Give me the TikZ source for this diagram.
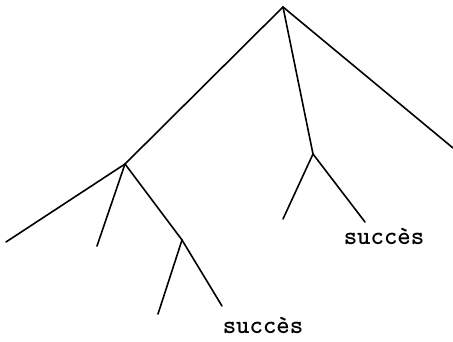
\documentclass[tikz,border=0pt]{standalone}
\begin{document}
\begin{tikzpicture}[x=1pt,y=-1pt,
  edge/.style={line width=1.6pt,line cap=round},
  lbl/.style={font=\fontsize{25.5}{30}\selectfont\ttfamily\bfseries,anchor=base,inner sep=0pt}]
\useasboundingbox (0,0) rectangle (453,342);
\coordinate (r) at (283,7);
\coordinate (a) at (125,164);
\coordinate (m) at (313,154);
\coordinate (rl) at (453,148);
\coordinate (a1) at (6,242);
\coordinate (a2) at (97,246);
\coordinate (b) at (182,240);
\coordinate (b1) at (158,314);
\coordinate (b2) at (222,306);
\coordinate (m1) at (283,219);
\coordinate (m2) at (365,222);
\draw[edge] (r) -- (a);
\draw[edge] (r) -- (m);
\draw[edge] (r) -- (rl);
\draw[edge] (a) -- (a1);
\draw[edge] (a) -- (a2);
\draw[edge] (a) -- (b);
\draw[edge] (b) -- (b1);
\draw[edge] (b) -- (b2);
\draw[edge] (m) -- (m1);
\draw[edge] (m) -- (m2);
\node[lbl] (s1) at (384,244) {succès};
\node[lbl] (s2) at (263,333) {succès};
\end{tikzpicture}
\end{document}
